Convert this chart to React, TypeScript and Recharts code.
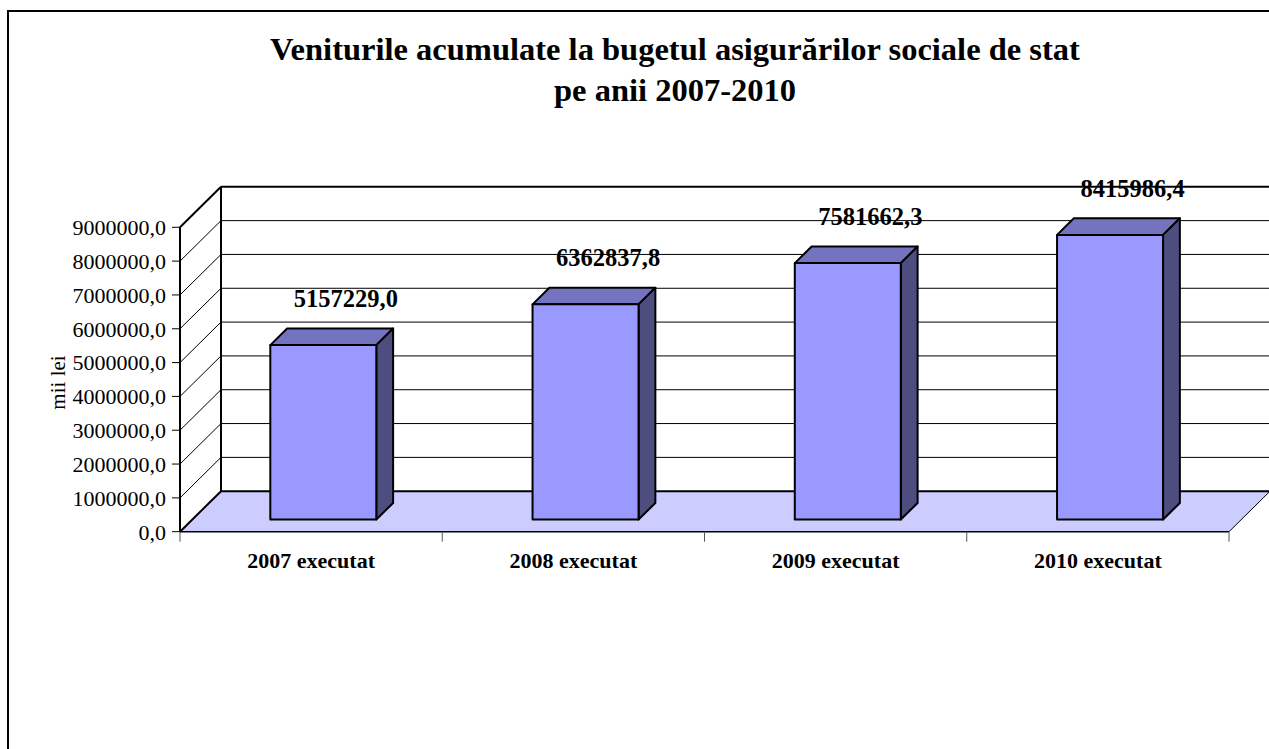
import React from 'react';
import { BarChart, Bar, XAxis, YAxis, CartesianGrid, LabelList } from 'recharts';

const categories = ['2007 executat', '2008 executat', '2009 executat', '2010 executat'];
const revenues = [5157229.0, 6362837.8, 7581662.3, 8415986.4];
const yTicks = [0, 1000000, 2000000, 3000000, 4000000, 5000000, 6000000, 7000000, 8000000, 9000000];
const titleLines = ['Veniturile acumulate la bugetul asigurărilor sociale de stat', 'pe anii 2007-2010'];
const yAxisTitle = 'mii lei';

const data = categories.map((name, i) => ({ name, value: revenues[i] }));

const FONT = '"Liberation Serif", "Times New Roman", serif';
// oblique depth of the 3d walls
const DX = 41;
const DY = -40.5;
// bars sit between these depth fractions
const Z0 = 0.3;
const Z1 = 0.71;

const fmt = (v: number) => v.toFixed(1).replace('.', ',');

const GridLine = (props: any) => {
	const { x1, x2, y1, y, height } = props;
	const bx1 = x1 + DX;
	const bx2 = x2 + DX;
	const by = y1 + DY;
	const isFloor = Math.abs(y1 - (y + height)) < 0.5;
	const isTop = Math.abs(y1 - y) < 0.5;
	if (isFloor) {
		return (
			<g>
				<polygon points={`${x1},${y1} ${x2},${y1} ${bx2},${by} ${bx1},${by}`} fill="#CCCCFF" />
				<line x1={x2} y1={y1} x2={bx2} y2={by} stroke="#000" strokeWidth={1} />
				<line x1={bx1} y1={by} x2={bx2 + 20} y2={by} stroke="#000" strokeWidth={2} />
				<line x1={x1} y1={y1} x2={bx1} y2={by} stroke="#000" strokeWidth={2} />
			</g>
		);
	}
	if (isTop) {
		return (
			<g>
				<line x1={x1} y1={y1} x2={bx1} y2={by} stroke="#000" strokeWidth={2} />
				<line x1={bx1} y1={by} x2={bx2 + 20} y2={by} stroke="#000" strokeWidth={2} />
				<line x1={bx1} y1={by} x2={bx1} y2={y + height + DY} stroke="#000" strokeWidth={2} />
			</g>
		);
	}
	return (
		<g>
			<line x1={x1} y1={y1} x2={bx1} y2={by} stroke="#000" strokeWidth={1} />
			<line x1={bx1} y1={by} x2={bx2 + 20} y2={by} stroke="#000" strokeWidth={1} />
		</g>
	);
};

const Box3D = (props: any) => {
	const { x, y, width, height } = props;
	if (!height) return null;
	const fx = x + DX * Z0;
	const fy = y + DY * Z0;
	const dx = DX * (Z1 - Z0);
	const dy = DY * (Z1 - Z0);
	return (
		<g stroke="#000" strokeWidth={2} strokeLinejoin="round">
			<polygon
				points={`${fx},${fy} ${fx + dx},${fy + dy} ${fx + width + dx},${fy + dy} ${fx + width},${fy}`}
				fill="#7373BF"
			/>
			<polygon
				points={`${fx + width},${fy} ${fx + width + dx},${fy + dy} ${fx + width + dx},${fy + height + dy} ${fx + width},${fy + height}`}
				fill="#4D4D80"
			/>
			<rect x={fx} y={fy} width={width} height={height} fill="#9999FF" />
		</g>
	);
};

const ValueLabel = (props: any) => {
	const { x, y, width, value } = props;
	return (
		<text
			x={x + width / 2 + DX * 0.85}
			y={y - 50}
			textAnchor="middle"
			fontFamily={FONT}
			fontWeight="bold"
			fontSize={24.5}
			fill="#000"
		>
			{fmt(value)}
		</text>
	);
};

const CategoryTick = (props: any) => {
	const { x, y, payload, index } = props;
	const half = payload?.offset ?? 131;
	const axisY = y - 18;
	return (
		<g>
			<line x1={x - half} y1={axisY} x2={x - half} y2={axisY + 10} stroke="#555" strokeWidth={1} />
			{index === categories.length - 1 && (
				<line x1={x + half} y1={axisY} x2={x + half} y2={axisY + 10} stroke="#555" strokeWidth={1} />
			)}
			<text x={x} y={axisY + 36} textAnchor="middle" fontFamily={FONT} fontWeight="bold" fontSize={22} fill="#000">
				{payload.value}
			</text>
		</g>
	);
};

const AxisTitle = (props: any) => {
	const { viewBox } = props;
	const cx = viewBox.x - 15;
	const cy = viewBox.y + viewBox.height / 2 + 3;
	return (
		<text x={cx} y={cy} transform={`rotate(-90 ${cx} ${cy})`} textAnchor="middle" fontFamily={FONT} fontSize={21} fill="#000">
			{yAxisTitle}
		</text>
	);
};

export default function App() {
	return (
		<div style={{ position: 'fixed', left: 0, top: 0, width: 1269, height: 749, overflow: 'hidden', background: '#fff' }}>
			<div
				style={{
					position: 'absolute',
					left: 7,
					top: 10,
					width: 1400,
					height: 900,
					border: '2px solid #000',
				}}
			/>
			<svg style={{ position: 'absolute', left: 0, top: 0 }} width={1269} height={130}>
				{titleLines.map((line, i) => (
					<text
						key={line}
						x={675}
						y={60 + i * 41}
						textAnchor="middle"
						fontFamily={FONT}
						fontWeight="bold"
						fontSize={32.5}
						fill="#000"
					>
						{line}
					</text>
				))}
			</svg>
			<div style={{ position: 'absolute', left: 0, top: 0 }}>
				<BarChart
					width={1269}
					height={749}
					data={data}
					margin={{ top: 227.3, right: 40, bottom: 167.3, left: 80 }}
				>
					<CartesianGrid horizontal={GridLine} vertical={false} />
					<XAxis
						dataKey="name"
						height={50}
						interval={0}
						tickSize={10}
						tickMargin={8}
						tickLine={false}
						axisLine={{ stroke: '#000', strokeWidth: 1.5 }}
						tick={CategoryTick}
					/>
					<YAxis
						width={100}
						domain={[0, 9000000]}
						ticks={yTicks}
						interval={0}
						tickFormatter={fmt}
						tickSize={8}
						tickMargin={6}
						tickLine={{ stroke: '#000' }}
						axisLine={{ stroke: '#000', strokeWidth: 2 }}
						tick={{ fontFamily: FONT, fontSize: 22, fill: '#000' }}
						label={AxisTitle}
					/>
					<Bar dataKey="value" barSize={106} shape={Box3D} isAnimationActive={false}>
						<LabelList dataKey="value" content={ValueLabel} />
					</Bar>
				</BarChart>
			</div>
		</div>
	);
}
